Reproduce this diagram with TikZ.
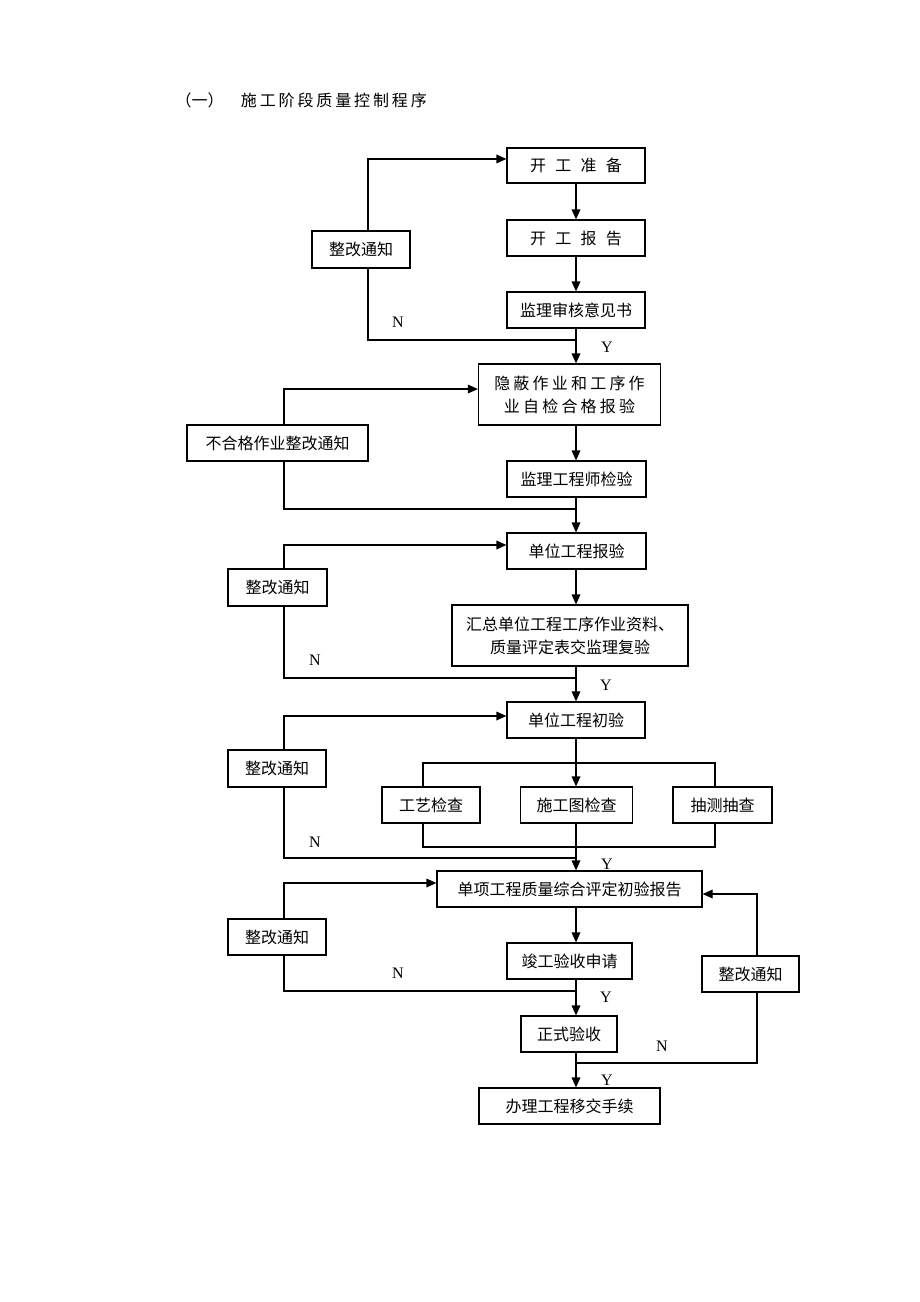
\documentclass[tikz,border=0pt]{standalone}
\usepackage{fontspec}
\setmainfont{Noto Sans CJK SC}
\newfontfamily\latinfont{Liberation Serif}
\usetikzlibrary{arrows.meta}

\begin{document}
\begin{tikzpicture}[x=.75pt,y=-.75pt,line width=.9pt,
    box/.style={draw,inner sep=0,minimum height=27pt,align=center,
      font=\fontsize{12}{17.25}\selectfont},
    arr/.style={-{Triangle[length=7.5pt,width=6.5pt]}},
    yn/.style={inner sep=0,font=\latinfont\fontsize{12}{12}\selectfont}]
  \path[fill=white,use as bounding box] (0,0) rectangle (920,1302);
  \node[anchor=west,inner sep=0,font=\fontsize{12}{12}\selectfont] (title) at (175,100)
    {（一）\hspace{13pt}\addfontfeature{LetterSpace=18}施工阶段质量控制程序};
  \coordinate (mx) at (576,0);
  \node[box,minimum width=103.5pt,minimum height=26.25pt] (b1) at (576,165.5)
    {\addfontfeature{LetterSpace=58}开工准备};
  \node[box,minimum width=103.5pt] (b2) at (576,238) {\addfontfeature{LetterSpace=58}开工报告};
  \node[box,minimum width=103.5pt] (b3) at (576,310) {监理审核意见书};
  \node[box,minimum width=73.5pt,minimum height=27.75pt] (n1) at (361,249.5) {整改通知};
  \node[box,minimum width=136.5pt,minimum height=45.75pt] (b4) at (569.5,394.5)
    {\addfontfeature{LetterSpace=20}隐蔽作业和工序作\\\addfontfeature{LetterSpace=20}业自检合格报验};
  \node[box,minimum width=135.75pt] (n2) at (277.5,443) {不合格作业整改通知};
  \node[box,minimum width=104.25pt] (b5) at (576.5,479) {监理工程师检验};
  \node[box,minimum width=104.25pt] (b6) at (576.5,551) {单位工程报验};
  \node[box,minimum width=74.25pt,minimum height=27.75pt] (n3) at (277.5,587.5) {整改通知};
  \node[box,minimum width=177pt,minimum height=45.75pt] (b7) at (570,635.5)
    {汇总单位工程工序作业资料、\\质量评定表交监理复验};
  \node[box,minimum width=103.5pt] (b8) at (576,720) {单位工程初验};
  \node[box,minimum width=73.5pt,minimum height=27.75pt] (n4) at (277,768.5) {整改通知};
  \node[box,minimum width=73.5pt] (s1) at (431,805) {工艺检查};
  \node[box,minimum width=84pt] (s2) at (576.5,805) {施工图检查};
  \node[box,minimum width=74.25pt] (s3) at (722.5,805) {抽测抽查};
  \node[box,minimum width=198.75pt] (b9) at (569.5,889) {单项工程质量综合评定初验报告};
  \node[box,minimum width=73.5pt] (n5) at (277,937) {整改通知};
  \node[box,minimum width=93.75pt] (b10) at (569.5,961) {竣工验收申请};
  \node[box,minimum width=72.75pt] (nr) at (750.5,974) {整改通知};
  \node[box,minimum width=72pt] (b11) at (569,1034) {正式验收};
  \node[box,minimum width=135.75pt] (b12) at (569.5,1106) {办理工程移交手续};

  \draw[arr] (b1) -- (b2);
  \draw[arr] (b2) -- (b3);
  \draw[arr] (b3.south -| mx) -- (b4.north -| mx);
  \draw[arr] (b4.south -| mx) -- (b5.north -| mx);
  \draw[arr] (b5.south -| mx) -- (b6.north -| mx);
  \draw[arr] (b6.south -| mx) -- (b7.north -| mx);
  \draw[arr] (b7.south -| mx) -- (b8.north -| mx);
  \draw[arr] (b8.south -| mx) -- (s2.north -| mx);
  \draw[arr] (s2.south -| mx) -- (b9.north -| mx);
  \draw[arr] (b9.south -| mx) -- (b10.north -| mx);
  \draw[arr] (b10.south -| mx) -- (b11.north -| mx);
  \draw[arr] (b11.south -| mx) -- (b12.north -| mx);

  \coordinate (r1) at (576,340);
  \draw (r1) -| ([xshift=5.25pt]n1.south);
  \draw[arr] ([xshift=5.25pt]n1.north) |- ([yshift=4.9pt]b1.west);
  \node[yn] (n1n) at (398,322) {N};
  \node[yn] (n1y) at (607,347) {Y};

  \coordinate (r2) at (576,509);
  \draw (r2) -| ([xshift=4.9pt]n2.south);
  \draw[arr] ([xshift=4.9pt]n2.north) |- ([yshift=4.1pt]b4.west);

  \coordinate (r3) at (576,678);
  \draw (r3) -| ([xshift=4.9pt]n3.south);
  \draw[arr] ([xshift=4.9pt]n3.north) |- ([yshift=4.5pt]b6.west);
  \node[yn] (n3n) at (315,660) {N};
  \node[yn] (n3y) at (606,685) {Y};

  \coordinate (t1) at (576,763);
  \draw ([xshift=-6pt]s1.north) |- (t1) -| ([xshift=-5.6pt]s3.north);
  \coordinate (t2) at (576,847);
  \draw ([xshift=-6pt]s1.south) |- (t2) -| ([xshift=-5.6pt]s3.south);
  \coordinate (r4) at (576,858);
  \draw (r4) -| ([xshift=5.25pt]n4.south);
  \draw[arr] ([xshift=5.25pt]n4.north) |- ([yshift=3pt]b8.west);
  \node[yn] (n4n) at (315,842) {N};
  \node[yn] (n4y) at (607,864) {Y};

  \coordinate (r5) at (576,991);
  \draw (r5) -| ([xshift=5.25pt]n5.south);
  \draw[arr] ([xshift=5.25pt]n5.north) |- ([yshift=4.5pt]b9.west);
  \node[yn] (n5n) at (398,973) {N};
  \node[yn] (n5y) at (606,997) {Y};

  \coordinate (r6) at (576,1063);
  \draw (r6) -| ([xshift=4.9pt]nr.south);
  \draw[arr] ([xshift=4.9pt]nr.north) |- ([yshift=-3.75pt]b9.east);
  \node[yn] (nrn) at (662,1046) {N};
  \node[yn] (nry) at (607,1080) {Y};
\end{tikzpicture}
\end{document}
